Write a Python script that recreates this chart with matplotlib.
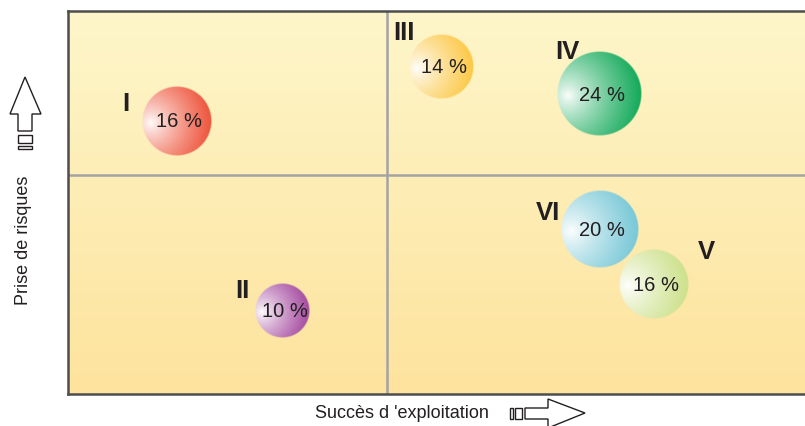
import numpy as np
import matplotlib
matplotlib.use("Agg")
import matplotlib.pyplot as plt
from matplotlib.patches import Polygon

plt.rcParams["font.family"] = ["Liberation Sans", "DejaVu Sans"]

# Bubble data (position on a 0-100 scale, share in %)
names = ["I", "II", "III", "IV", "VI", "V"]
succes = [14.7, 29.1, 50.7, 72.1, 72.2, 79.5]      # x: Succès d'exploitation
risques = [71.3, 21.8, 85.6, 78.3, 42.9, 28.7]     # y: Prise de risques
shares = [16, 10, 14, 24, 20, 16]
label_x = [7.9, 23.6, 45.6, 67.8, 65.1, 86.6]
label_y = [76.0, 27.2, 94.5, 89.6, 47.5, 37.3]
colors = ["#EE553C", "#A54BA0", "#FCC846", "#14AA5A", "#78C8D7", "#CDE18C"]

# quadrant dividers
x_split = 43.3
y_split = 57.2

W, H = 805, 427
fig = plt.figure(figsize=(W / 100, H / 100), dpi=100)
ax_l, ax_b, ax_w, ax_h = 68, 32, 737, 383
ax = fig.add_axes([ax_l / W, ax_b / H, ax_w / W, ax_h / H])
ax.set_xlim(0, 100)
ax.set_ylim(0, 100)

# background gradient, pale on top, warmer at the bottom
top = np.array([254, 246, 202]) / 255
bot = np.array([253, 227, 157]) / 255
g = np.linspace(0, 1, 256)[:, None]
bg = bot + (top - bot) * g
ax.imshow(np.repeat(bg[:, None, :], 2, axis=1), extent=[0, 100, 0, 100],
          origin="lower", aspect="auto", zorder=0)

ax.axvline(x_split, color="#A3A3A3", lw=1.8, zorder=1)
ax.axhline(y_split, color="#A3A3A3", lw=1.8, zorder=1)

# bubbles with a shaded highlight on the left
k = 8.65  # pixels of radius per sqrt(%)
N = 300
u = np.linspace(-1, 1, N)
U, V = np.meshgrid(u, u)
rho = np.sqrt(U ** 2 + V ** 2)
d = np.sqrt((U + 0.74) ** 2 + (V + 0.05) ** 2)
t = np.clip(d / 1.72, 0, 1) ** 0.8
for x, y, s, c in zip(succes, risques, shares, colors):
    r = k * np.sqrt(s)
    rx = r / ax_w * 100
    ry = r / ax_h * 100
    col = np.array(matplotlib.colors.to_rgb(c))
    img = np.ones((N, N, 4))
    img[..., :3] = 1 - t[..., None] * (1 - col)
    img[..., 3] = np.clip((1 - rho) * r, 0, 1)
    ax.imshow(img, extent=[x - rx, x + rx, y - ry, y + ry], origin="lower",
              aspect="auto", interpolation="bilinear", zorder=2)
    ax.text(x + 0.3, y, f"{s} %", ha="center", va="center", fontsize=14.5,
            color="#231F20", zorder=3)

for n, lx, ly in zip(names, label_x, label_y):
    ax.text(lx, ly, n, ha="center", va="center", fontsize=18.5,
            fontweight="bold", color="#231F20", zorder=3)

ax.set_xticks([])
ax.set_yticks([])
for side in ["left", "top", "bottom"]:
    ax.spines[side].set_color("#4D4D4D")
    ax.spines[side].set_linewidth(1.8)
ax.spines["right"].set_visible(False)


# axis titles and arrows, in figure pixels
def px(x, y):
    return (x / W, 1 - y / H)


fig.text(*px(24, 240), "Prise de risques", rotation=90, ha="center",
         va="center", fontsize=13, color="#231F20")
fig.text(*px(402, 414), "Succès d 'exploitation", ha="center", va="center",
         fontsize=13, color="#231F20")

up = [(25, 78), (41, 115), (32, 115), (32, 132), (18, 132), (18, 115), (10, 115)]
fig.patches.append(Polygon([px(*p) for p in up], closed=True, fc="white",
                           ec="#231F20", lw=1, transform=fig.transFigure))
for y0, y1 in [(136, 144), (147, 150)]:
    fig.patches.append(Polygon([px(18, y0), px(32, y0), px(32, y1), px(18, y1)],
                               closed=True, fc="white", ec="#231F20", lw=1,
                               transform=fig.transFigure))

right = [(585, 414), (548, 400), (548, 409), (525, 409), (525, 420),
         (548, 420), (548, 429)]
fig.patches.append(Polygon([px(*p) for p in right], closed=True, fc="white",
                           ec="#231F20", lw=1, transform=fig.transFigure))
for x0, x1 in [(515, 522), (510, 513)]:
    fig.patches.append(Polygon([px(x0, 409), px(x1, 409), px(x1, 420), px(x0, 420)],
                               closed=True, fc="white", ec="#231F20", lw=1,
                               transform=fig.transFigure))

fig.savefig("out.png", dpi=100, facecolor="white")
